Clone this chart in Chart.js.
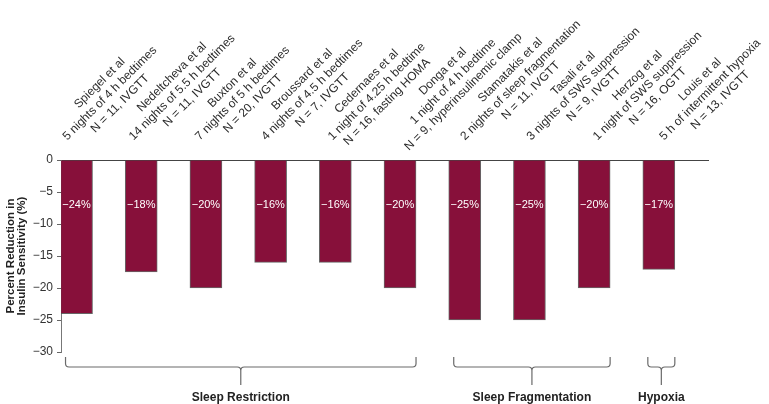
<!DOCTYPE html>
<html>
<head>
<meta charset="utf-8">
<script src="https://cdn.jsdelivr.net/npm/chart.js@4/dist/chart.umd.min.js"></script>
<style>
  html, body { margin: 0; padding: 0; background: #ffffff; }
  #wrap { width: 769px; height: 404px; }
</style>
</head>
<body>
<div id="wrap"><canvas id="c" width="769" height="404"></canvas></div>
<script>
// ---- data ----
const studies = ['Spiegel et al', 'Nedeltcheva et al', 'Buxton et al', 'Broussard et al', 'Cedernaes et al',
  'Donga et al', 'Stamatakis et al', 'Tasali et al', 'Herzog et al', 'Louis et al'];
const protocols = ['5 nights of 4 h bedtimes', '14 nights of 5.5 h bedtimes', '7 nights of 5 h bedtimes',
  '4 nights of 4.5 h bedtimes', '1 night of 4.25 h bedtime', '1 night of 4 h bedtime',
  '2 nights of sleep fragmentation', '3 nights of SWS suppression', '1 night of SWS suppression',
  '5 h of intermittent hypoxia'];
const samples = ['N = 11, IVGTT', 'N = 11, IVGTT', 'N = 20, IVGTT', 'N = 7, IVGTT', 'N = 16, fasting HOMA',
  'N = 9, hyperinsulinemic clamp', 'N = 11, IVGTT', 'N = 9, IVGTT', 'N = 16, OGTT', 'N = 13, IVGTT'];
const values = [-24, -17.5, -20, -16, -16, -20, -25, -25, -20, -17.1];
const valueLabels = ['\u221224%', '\u221218%', '\u221220%', '\u221216%', '\u221216%',
  '\u221220%', '\u221225%', '\u221225%', '\u221220%', '\u221217%'];
const groupNames = ['Sleep Restriction', 'Sleep Fragmentation', 'Hypoxia'];
const groupFirst = [0, 6, 9];
const groupLast = [5, 8, 9];
const yTitle = ['Percent Reduction in', 'Insulin Sensitivity (%)'];

const FONT = '"Liberation Sans", Arial, Helvetica, sans-serif';
Chart.defaults.font.family = FONT;

const points = values.map((v, i) => ({ x: i, y: v }));

// rotated study labels above the plot
const topLabels = {
  id: 'topLabels',
  afterDraw(chart) {
    const ctx = chart.ctx, xs = chart.scales.x, ys = chart.scales.y;
    const y0 = ys.getPixelForValue(0);
    ctx.save();
    ctx.font = '12px ' + FONT;
    ctx.fillStyle = '#2b2b2b';
    ctx.textAlign = 'center';
    ctx.textBaseline = 'middle';
    studies.forEach((name, i) => {
      const lines = [name, protocols[i], samples[i]];
      const W = Math.max(...lines.map(l => ctx.measureText(l).width));
      const ax = xs.getPixelForValue(i) + i * 1.6;
      ctx.save();
      ctx.translate(ax, y0);
      ctx.rotate(-Math.PI / 4);
      lines.forEach((l, k) => ctx.fillText(l, 7 + W / 2, -9 - (2 - k) * 14.5));
      ctx.restore();
    });
    ctx.restore();
  }
};

// value labels inside bars
const barLabels = {
  id: 'barLabels',
  afterDatasetsDraw(chart) {
    const ctx = chart.ctx, ys = chart.scales.y;
    const meta = chart.getDatasetMeta(0);
    ctx.save();
    ctx.font = '11px ' + FONT;
    ctx.fillStyle = '#ffffff';
    ctx.textAlign = 'center';
    ctx.textBaseline = 'middle';
    meta.data.forEach((bar, i) => ctx.fillText(valueLabels[i], bar.x, ys.getPixelForValue(-7.1)));
    ctx.restore();
  }
};

// group braces and names below the plot
const braces = {
  id: 'braces',
  afterDraw(chart) {
    const ctx = chart.ctx, xs = chart.scales.x, ys = chart.scales.y;
    const base = ys.getPixelForValue(-30);
    const yTip = base + 5, yLine = base + 15, yStem = base + 33, yText = base + 46;
    ctx.save();
    ctx.strokeStyle = '#6a6a6a';
    ctx.lineWidth = 1.2;
    groupNames.forEach((g, k) => {
      const x1 = xs.getPixelForValue(groupFirst[k]) - 11;
      const x2 = xs.getPixelForValue(groupLast[k]) + 16;
      const xc = (x1 + x2) / 2;
      const r = 3.5;
      ctx.beginPath();
      ctx.moveTo(x1, yTip);
      ctx.lineTo(x1, yLine - r);
      ctx.quadraticCurveTo(x1, yLine, x1 + r, yLine);
      ctx.lineTo(xc - r, yLine);
      ctx.quadraticCurveTo(xc, yLine, xc, yLine + r);
      ctx.lineTo(xc, yStem);
      ctx.moveTo(xc, yLine + r);
      ctx.quadraticCurveTo(xc, yLine, xc + r, yLine);
      ctx.lineTo(x2 - r, yLine);
      ctx.quadraticCurveTo(x2, yLine, x2, yLine - r);
      ctx.lineTo(x2, yTip);
      ctx.stroke();
      ctx.font = 'bold 12px ' + FONT;
      ctx.fillStyle = '#222';
      ctx.textAlign = 'center';
      ctx.textBaseline = 'middle';
      ctx.fillText(g, xc, yText);
    });
    ctx.restore();
  }
};

new Chart(document.getElementById('c'), {
  type: 'bar',
  data: {
    datasets: [{
      data: points,
      backgroundColor: '#87103a',
      borderColor: 'rgba(75,75,75,0.85)',
      borderWidth: 1,
      barThickness: 32
    }]
  },
  options: {
    responsive: false,
    animation: false,
    devicePixelRatio: 1,
    layout: { padding: { top: 160, right: 61, bottom: 52, left: 0 } },
    plugins: { legend: { display: false }, tooltip: { enabled: false } },
    scales: {
      x: {
        type: 'linear',
        position: 'top',
        offset: false,
        min: -0.24,
        max: 9.76,
        ticks: { display: false },
        grid: { display: false, offset: false },
        border: { display: true, color: '#444', width: 1 },
        afterFit(s) { s.height = 0; }
      },
      y: {
        min: -30,
        max: 0,
        ticks: {
          stepSize: 5,
          padding: 4,
          color: '#333',
          font: { size: 12 },
          callback: v => (v < 0 ? '\u2212' : '') + Math.abs(v)
        },
        grid: { drawOnChartArea: false, drawTicks: true, tickLength: 4, color: '#666' },
        border: { display: true, color: '#777', width: 1 },
        title: {
          display: true,
          text: yTitle,
          color: '#222',
          font: { size: 11.5, weight: 'bold', lineHeight: 0.96 },
          padding: { top: 5, bottom: 0 }
        },
        afterFit(s) { s.width = 61; }
      }
    }
  },
  plugins: [barLabels, topLabels, braces]
});
</script>
</body>
</html>
